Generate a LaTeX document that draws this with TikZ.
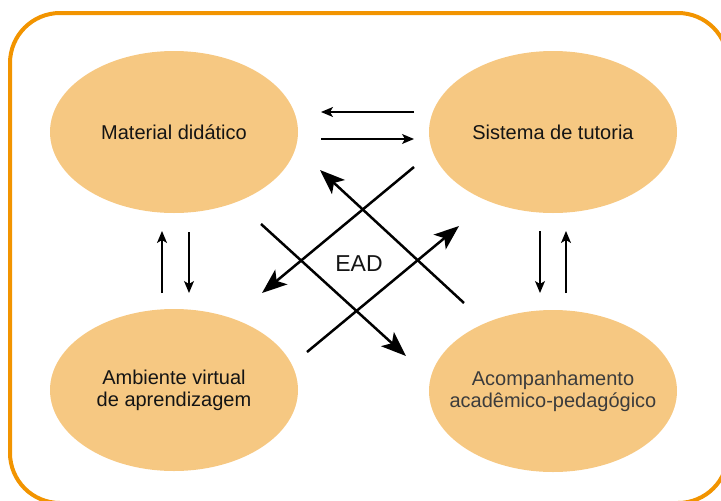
\documentclass[tikz,border=0pt]{standalone}
\usepackage{fontspec}
\setmainfont{Liberation Sans}
\usetikzlibrary{shapes.geometric,arrows.meta}
\definecolor{frameorange}{RGB}{242,148,0}
\definecolor{bubble}{RGB}{246,200,130}
\definecolor{darktext}{RGB}{20,20,20}
\definecolor{softtext}{RGB}{60,60,60}
\tikzset{
  bubble/.style={ellipse, fill=bubble, draw=none, minimum width=248pt,
    minimum height=162pt, inner sep=0pt},
  bubbletext/.style={align=center, inner sep=0pt,
    font=\fontsize{20}{22}\selectfont, text=darktext},
  thinarrow/.style={line width=1.3pt, -{Stealth[length=12pt,width=10pt,inset=3pt]}},
  bigarrow/.style={line width=2.5pt, -{Stealth[length=25pt,width=19pt,inset=6pt]}}
}
\begin{document}
\begin{tikzpicture}[x=1pt,y=-1pt]
  \useasboundingbox (0,0) rectangle (721,501);
  % outer frame, partly running off the page
  \draw[frameorange, line width=4pt, rounded corners=50pt] (10,13) rectangle (728,503);

  % the four components
  \node[bubble] (mat) at (174,132) {};
  \node[bubble] (tut) at (553,132) {};
  \node[bubble] (amb) at (174,390) {};
  \node[bubble] (aco) at (553,391) {};
  \node[bubbletext] (matlabel) at (mat.center) {Material didático};
  \node[bubbletext] (tutlabel) at (tut.center) {Sistema de tutoria};
  \node[bubbletext] (amblabel) at (amb.center) {Ambiente virtual\\de aprendizagem};
  \node[bubbletext, text=softtext] (acolabel) at (aco.center) {Acompanhamento\\acadêmico-pedagógico};

  \node[font=\fontsize{23}{25}\selectfont, text=darktext] (ead) at (359,264) {EAD};

  % end points of the connectors
  \coordinate (h1s) at (414,112); \coordinate (h1e) at (321,112);
  \coordinate (h2s) at (321,139); \coordinate (h2e) at (414,139);
  \coordinate (l1s) at (162,293); \coordinate (l1e) at (162,231);
  \coordinate (l2s) at (189,232); \coordinate (l2e) at (189,293);
  \coordinate (r1s) at (540,231); \coordinate (r1e) at (540,293);
  \coordinate (r2s) at (566,293); \coordinate (r2e) at (566,231);
  \coordinate (d1s) at (261,224); \coordinate (d1e) at (406,356);
  \coordinate (d2s) at (414,167); \coordinate (d2e) at (262,293);
  \coordinate (d3s) at (464,303); \coordinate (d3e) at (320,170);
  \coordinate (d4s) at (307,352); \coordinate (d4e) at (459,226);

  % exchanges between neighbouring components
  \draw[thinarrow] (h1s) -- (h1e);
  \draw[thinarrow] (h2s) -- (h2e);
  \draw[thinarrow] (l1s) -- (l1e);
  \draw[thinarrow] (l2s) -- (l2e);
  \draw[thinarrow] (r1s) -- (r1e);
  \draw[thinarrow] (r2s) -- (r2e);

  % crossing arrows around EAD
  \draw[bigarrow] (d1s) -- (d1e);
  \draw[bigarrow] (d2s) -- (d2e);
  \draw[bigarrow] (d3s) -- (d3e);
  \draw[bigarrow] (d4s) -- (d4e);
\end{tikzpicture}
\end{document}
